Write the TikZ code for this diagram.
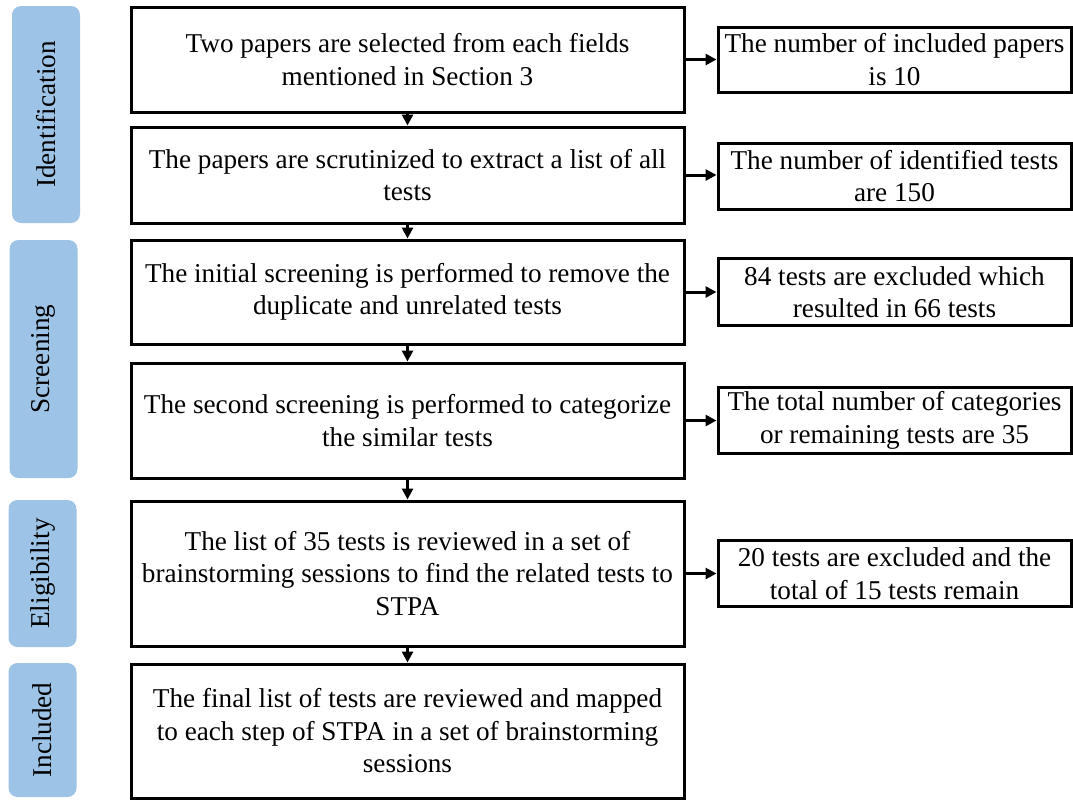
\documentclass[tikz,border=0pt]{standalone}
\usepackage{fontspec}
\setmainfont{Liberation Serif}
\newfontfamily\timesfont{Liberation Serif}
\usetikzlibrary{arrows.meta}
\definecolor{phaseblue}{HTML}{9DC3E6}
\begin{document}
\begin{tikzpicture}[x=1pt,y=-1pt,
  every node/.style={font=\timesfont\fontsize{27.2}{32.5}\selectfont, align=center, inner sep=0pt},
  mainbox/.style={draw=black, line width=3pt, minimum width=553pt},
  sidebox/.style={draw=black, line width=3pt, minimum width=353pt},
  phase/.style={fill=phaseblue, rounded corners=9pt, minimum width=68pt},
  phasetext/.style={rotate=90},
  flow/.style={line width=3pt, -{Triangle[length=11pt,width=11pt]}}
]
\useasboundingbox (0,0) rectangle (1073,801);

% phase labels on the left
\node[phase, minimum height=217pt] (p1) at (46,114.5) {};
\node[phasetext] at (p1.center) {Identification};
\node[phase, minimum height=238pt] (p2) at (43.5,359) {};
\node[phasetext] at (p2.center) {Screening};
\node[phase, minimum height=147pt] (p3) at (42.5,573.5) {};
\node[phasetext] at (p3.center) {Eligibility};
\node[phase, minimum height=134pt] (p4) at (42.5,730) {};
\node[phasetext] at (p4.center) {Included};

% main process steps
\node[mainbox, minimum height=105pt] (m1) at (407.5,59.5)
  {Two papers are selected from each fields\\mentioned in Section 3};
\node[mainbox, minimum height=96pt] (m2) at (407.5,175)
  {The papers are scrutinized to extract a list of all\\tests};
\node[mainbox, minimum height=104pt] (m3) at (407.5,292)
  {The initial screening is performed to remove the\\duplicate and unrelated tests};
\node[mainbox, minimum height=115pt] (m4) at (407.5,420.5)
  {The second screening is performed to categorize\\the similar tests};
\node[mainbox, minimum height=145pt] (m5) at (407.5,573.5)
  {The list of 35 tests is reviewed in a set of\\brainstorming sessions to find the related tests to\\STPA};
\node[mainbox, minimum height=134pt] (m6) at (407.5,731)
  {The final list of tests are reviewed and mapped\\to each step of STPA in a set of brainstorming\\sessions};

% outcome boxes on the right
\node[sidebox, minimum height=65pt] (r1) at (894.5,59.5)
  {The number of included papers\\is 10};
\node[sidebox, minimum height=66pt] (r2) at (894.5,176)
  {The number of identified tests\\are 150};
\node[sidebox, minimum height=67pt] (r3) at (894.5,292)
  {84 tests are excluded which\\resulted in 66 tests};
\node[sidebox, minimum height=66pt] (r4) at (894.5,420.5)
  {The total number of categories\\or remaining tests are 35};
\node[sidebox, minimum height=66pt] (r5) at (894.5,573.5)
  {20 tests are excluded and the\\total of 15 tests remain};

% vertical flow
\draw[flow] (m1.south) -- (m2.north);
\draw[flow] (m2.south) -- (m3.north);
\draw[flow] (m3.south) -- (m4.north);
\draw[flow] (m4.south) -- (m5.north);
\draw[flow] (m5.south) -- (m6.north);

% outcomes
\draw[flow] (m1.east) -- (r1.west);
\draw[flow] (m2.east) -- (r2.west |- m2.east);
\draw[flow] (m3.east) -- (r3.west);
\draw[flow] (m4.east) -- (r4.west);
\draw[flow] (m5.east) -- (r5.west);
\end{tikzpicture}
\end{document}
